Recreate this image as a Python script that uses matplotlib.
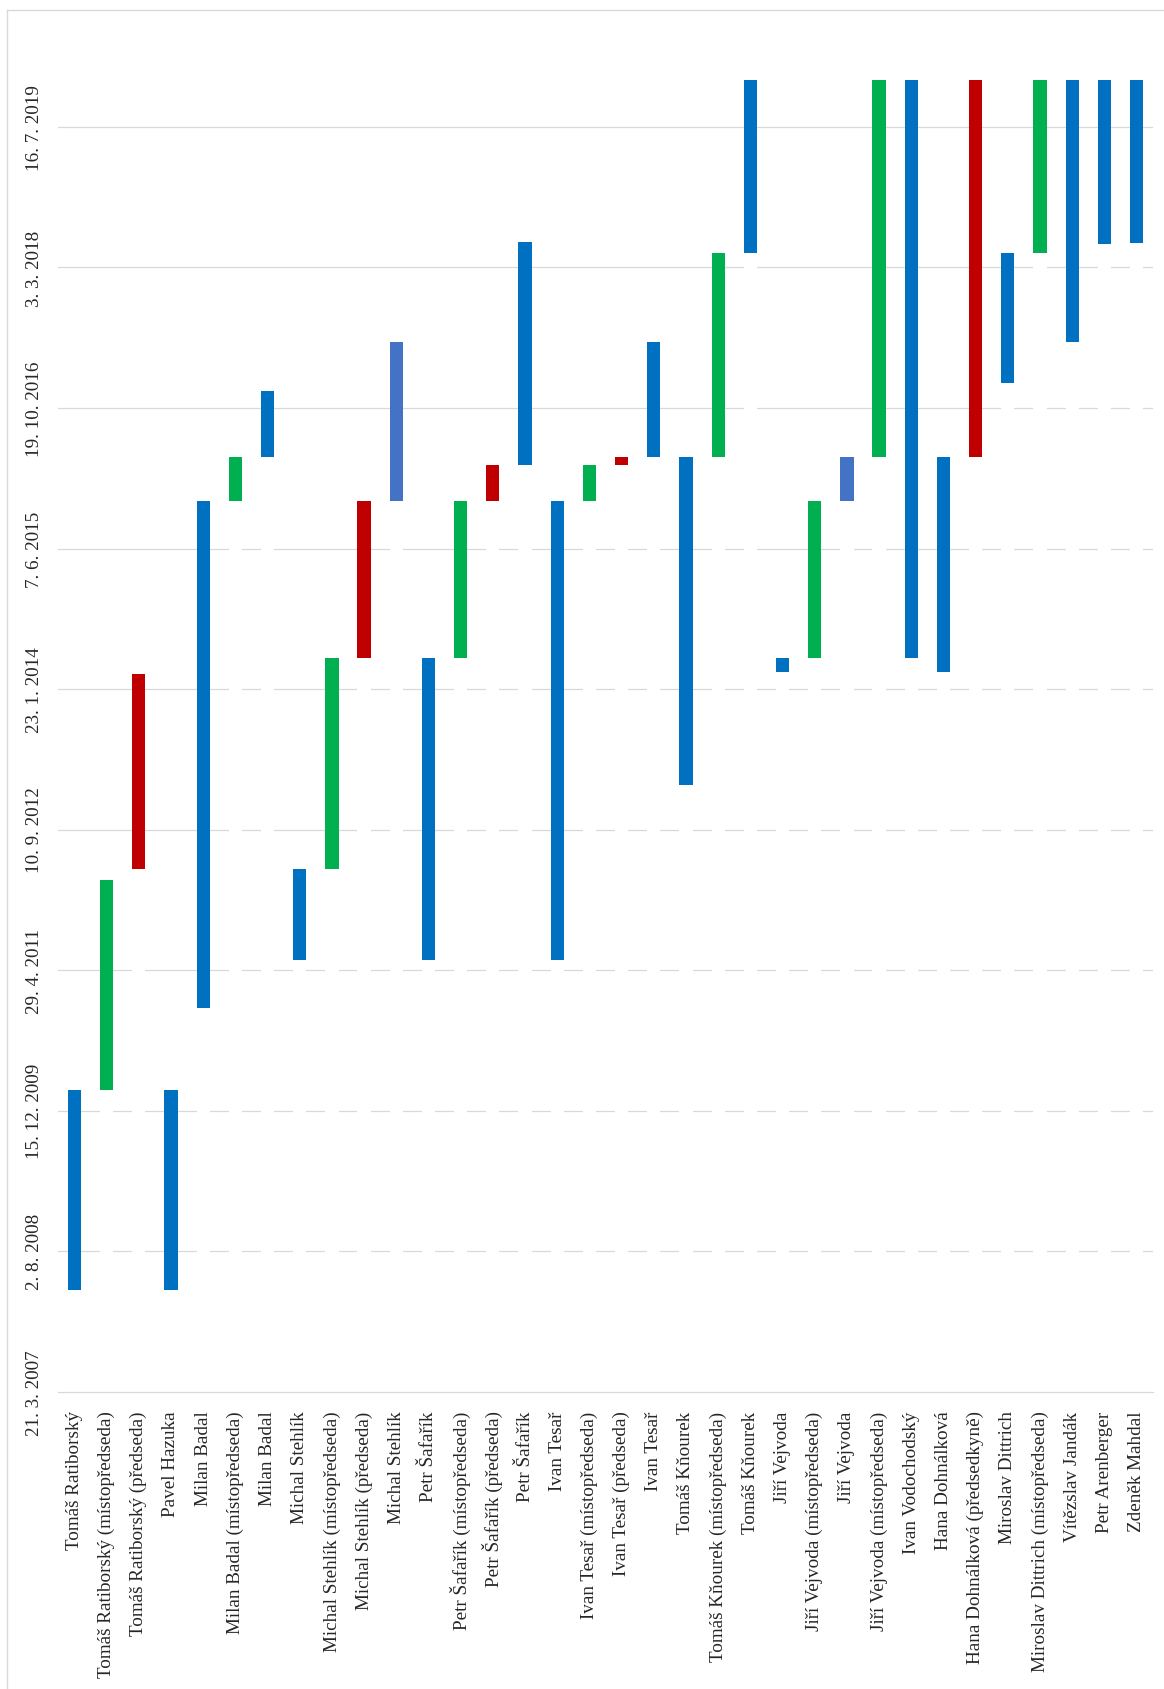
import matplotlib
matplotlib.use("Agg")
import matplotlib.pyplot as plt
import matplotlib.dates as mdates
from matplotlib.lines import Line2D

# ---------------- data ----------------
categories = [
    "Tomáš Ratiborský",
    "Tomáš Ratiborský (místopředseda)",
    "Tomáš Ratiborský (předseda)",
    "Pavel Hazuka",
    "Milan Badal",
    "Milan Badal (místopředseda)",
    "Milan Badal",
    "Michal Stehlík",
    "Michal Stehlík (místopředseda)",
    "Michal Stehlík (předseda)",
    "Michal Stehlík",
    "Petr Šafařík",
    "Petr Šafařík (místopředseda)",
    "Petr Šafařík (předseda)",
    "Petr Šafařík",
    "Ivan Tesař",
    "Ivan Tesař (místopředseda)",
    "Ivan Tesař (předseda)",
    "Ivan Tesař",
    "Tomáš Kňourek",
    "Tomáš Kňourek (místopředseda)",
    "Tomáš Kňourek",
    "Jiří Vejvoda",
    "Jiří Vejvoda (místopředseda)",
    "Jiří Vejvoda",
    "Jiří Vejvoda (místopředseda)",
    "Ivan Vodochodský",
    "Hana Dohnálková",
    "Hana Dohnálková (předsedkyně)",
    "Miroslav Dittrich",
    "Miroslav Dittrich (místopředseda)",
    "Vítězslav Jandák",
    "Petr Arenberger",
    "Zdeněk Mahdal",
]

start_dates = [
    "2008-03-18", "2010-02-27", "2012-04-23", "2008-03-18", "2010-12-14",
    "2015-11-24", "2016-04-27", "2011-06-04", "2012-04-23", "2014-05-14",
    "2015-11-24", "2011-06-04", "2014-05-14", "2015-11-24", "2016-03-31",
    "2011-06-04", "2015-11-24", "2016-03-31", "2016-04-27", "2013-02-17",
    "2016-04-27", "2018-04-24", "2014-03-24", "2014-05-14", "2015-11-24",
    "2016-04-27", "2014-05-14", "2014-03-24", "2016-04-27", "2017-01-17",
    "2018-04-24", "2017-06-10", "2018-05-24", "2018-05-30",
]

end_dates = [
    "2010-02-27", "2012-03-15", "2014-03-18", "2010-02-27", "2015-11-24",
    "2016-04-27", "2016-12-18", "2012-04-23", "2014-05-14", "2015-11-24",
    "2017-06-10", "2014-05-14", "2015-11-24", "2016-03-31", "2018-06-01",
    "2015-11-24", "2016-03-31", "2016-04-27", "2017-06-10", "2016-04-27",
    "2018-04-24", "2019-12-31", "2014-05-14", "2015-11-24", "2016-04-27",
    "2019-12-31", "2019-12-31", "2016-04-27", "2019-12-31", "2018-04-24",
    "2019-12-31", "2019-12-31", "2019-12-31", "2019-12-31",
]

roles = [
    "člen", "místopředseda", "předseda", "člen", "člen",
    "místopředseda", "člen", "člen", "místopředseda", "předseda",
    "člen2", "člen", "místopředseda", "předseda", "člen",
    "člen", "místopředseda", "předseda", "člen", "člen",
    "místopředseda", "člen", "člen", "místopředseda", "člen2",
    "místopředseda", "člen", "člen", "předseda", "člen",
    "místopředseda", "člen", "člen", "člen",
]

role_colors = {
    "člen": "#0070C0",
    "místopředseda": "#00B050",
    "předseda": "#C00000",
    "člen2": "#4472C4",
}

axis_start = "2007-03-21"
tick_step_days = 500
n_ticks = 10

# ---------------- figure ----------------
W, H = 1164, 1690
fig = plt.figure(figsize=(W / 100, H / 100), dpi=100)
fig.patch.set_facecolor("white")

left_px, right_px, top_px, bottom_px = 58.3, 1152.7, 80.7, 1392.7
ax = fig.add_axes([left_px / W, 1 - bottom_px / H,
                   (right_px - left_px) / W, (bottom_px - top_px) / H])

font = "Liberation Serif"
txt_color = "#262626"
grid_color = "#d9d9d9"

ymin = mdates.datestr2num(axis_start)
starts = mdates.datestr2num(start_dates)
ends = mdates.datestr2num(end_dates)
ymax = ends.max()

x = list(range(len(categories)))
bar_w = 0.413

# gridlines (solid), partly hidden by the white base segments
tick_vals = [ymin + tick_step_days * k for k in range(n_ticks)]
for v in tick_vals[1:]:
    ax.axhline(v, color=grid_color, lw=0.9, zorder=1)

# white (invisible) base segments of the stacked columns
ax.bar(x, starts - ymin, bottom=ymin, width=bar_w, color="white",
       edgecolor="none", zorder=2)
# visible duration segments
ax.bar(x, ends - starts, bottom=starts, width=bar_w,
       color=[role_colors[r] for r in roles], edgecolor="none", zorder=3)

ax.set_xlim(-0.5, len(categories) - 0.5)
ax.set_ylim(ymin, ymax)

ax.set_yticks(tick_vals)
labels = []
for v in tick_vals:
    d = mdates.num2date(v)
    labels.append(f"{d.day}. {d.month}. {d.year}")
ax.set_yticklabels(labels, rotation=90, va="center", fontsize=13.8,
                   family=font, color=txt_color)

ax.set_xticks(x)
ax.set_xticklabels(categories, rotation=90, ha="center", va="top",
                   fontsize=13.8, family=font, color=txt_color)

ax.tick_params(axis="y", length=0, pad=11)
ax.tick_params(axis="x", length=0, pad=13.5)

for s in ["top", "right", "left"]:
    ax.spines[s].set_visible(False)
ax.spines["bottom"].set_color(grid_color)
ax.spines["bottom"].set_linewidth(0.9)
ax.spines["bottom"].set_zorder(5)
ax.set_facecolor("white")

# chart frame (left and top edges visible)
fx = 6.7 / W
fy = 1 - 10.7 / H
fig.add_artist(Line2D([fx, fx], [0, fy], transform=fig.transFigure,
                      color=grid_color, lw=1.0))
fig.add_artist(Line2D([fx, 1], [fy, fy], transform=fig.transFigure,
                      color=grid_color, lw=1.0))

fig.savefig("out.png", dpi=100, facecolor="white")
